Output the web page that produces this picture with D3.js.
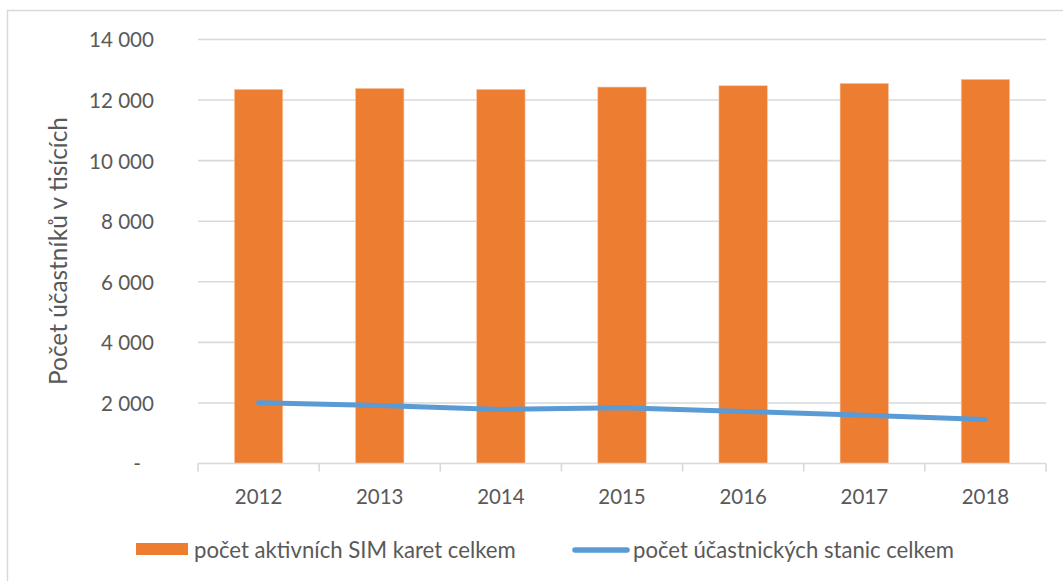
<!DOCTYPE html>
<html>
<head>
<meta charset="utf-8">
<script src="https://cdn.jsdelivr.net/npm/d3@7"></script>
<style>
  html, body { margin: 0; padding: 0; background: #fff; }
  svg { display: block; }
  text { font-family: Lato, "Open Sans", sans-serif; fill: #595959; }
</style>
</head>
<body>
<svg id="chart" width="1063" height="581"></svg>
<script>
const years = ["2012", "2013", "2014", "2015", "2016", "2017", "2018"];
const simCards = [12354, 12387, 12354, 12430, 12473, 12552, 12685];
const stations = [2010, 1917, 1785, 1841, 1719, 1597, 1455];
const yTicks = [0, 2000, 4000, 6000, 8000, 10000, 12000, 14000];
const seriesNames = ["počet aktivních SIM karet celkem", "počet účastnických stanic celkem"];
const yTitle = "Počet účastníků v tisících";

const barColor = "#ED7D31";
const lineColor = "#5B9BD5";
const gridColor = "#D9D9D9";

const svg = d3.select("#chart");

function fit(sel, w) {
  const n = sel.node();
  const cur = n.getComputedTextLength();
  const fs = parseFloat(sel.style("font-size"));
  return fs * w / cur;
}

// outer chart border
svg.append("rect")
  .attr("x", 7.5).attr("y", 10.5)
  .attr("width", 1070).attr("height", 590)
  .attr("fill", "none").attr("stroke", gridColor).attr("stroke-width", 1.5);

const x = d3.scaleBand().domain(years).range([198, 1046]).paddingInner(0.6).paddingOuter(0.3);
const y = d3.scaleLinear().domain([0, 14000]).range([463.5, 39.5]);

const loc = d3.formatLocale({ decimal: ",", thousands: "\u2009", grouping: [3], currency: ["", ""] });
const fmt = v => v === 0 ? "-" : loc.format(",")(v).replace("\u2009", " ");

// gridlines
svg.append("g").selectAll("line")
  .data(yTicks.filter(v => v > 0))
  .join("line")
  .attr("x1", 198).attr("x2", 1046)
  .attr("y1", d => y(d)).attr("y2", d => y(d))
  .attr("stroke", gridColor).attr("stroke-width", 1.6);

// y axis labels
const yAxis = d3.axisLeft(y).tickValues(yTicks).tickFormat(fmt).tickSize(0).tickPadding(0);
const gy = svg.append("g").attr("transform", "translate(154,0)").call(yAxis);
gy.select(".domain").remove();
const yLabels = gy.selectAll("text").style("font-size", "20px").attr("fill", "#595959");
const yfs = fit(yLabels.filter(d => d === 14000), 65);
yLabels.style("font-size", yfs + "px")
  .attr("dy", "0.36em")
  .attr("dx", d => d === 0 ? -13 : 0);

// bars
svg.append("g").selectAll("rect")
  .data(years)
  .join("rect")
  .attr("x", d => x(d))
  .attr("width", x.bandwidth())
  .attr("y", (d, i) => y(simCards[i]))
  .attr("height", (d, i) => y(0) - y(simCards[i]))
  .attr("fill", barColor)
  .attr("stroke", "#F8CBAD").attr("stroke-width", 0.6);

// x axis
const xAxis = d3.axisBottom(x).tickSize(0).tickPadding(0);
const gx = svg.append("g").attr("transform", `translate(0,${y(0)})`).call(xAxis);
gx.select(".domain").remove();
gx.append("line").attr("x1", 198).attr("x2", 1046).attr("y1", 0).attr("y2", 0)
  .attr("stroke", gridColor).attr("stroke-width", 1.6);
const tickXs = d3.range(years.length + 1).map(i => 198 + i * x.step());
gx.selectAll(".sep").data(tickXs).join("line").attr("class", "sep")
  .attr("x1", d => d).attr("x2", d => d).attr("y1", 0).attr("y2", 8)
  .attr("stroke", gridColor).attr("stroke-width", 1.6);
const xLabels = gx.selectAll(".tick text").style("font-size", "21px").attr("fill", "#595959");
const xfs = fit(xLabels.filter(d => d === "2012"), 47.5);
xLabels.style("font-size", xfs + "px").attr("y", 40).attr("dy", 0);

// line
const line = d3.line()
  .x((d, i) => x(years[i]) + x.bandwidth() / 2)
  .y(d => y(d));
svg.append("path")
  .datum(stations)
  .attr("d", line)
  .attr("fill", "none")
  .attr("stroke", lineColor)
  .attr("stroke-width", 5)
  .attr("stroke-linecap", "round")
  .attr("stroke-linejoin", "round");

// y title
const yt = svg.append("text")
  .attr("transform", "translate(67,251) rotate(-90)")
  .attr("text-anchor", "middle")
  .style("font-size", "21px")
  .text(yTitle);
yt.style("font-size", fit(yt, 268) + "px");

// legend
const lg = svg.append("g");
lg.append("rect").attr("x", 136).attr("y", 543).attr("width", 52).attr("height", 12).attr("fill", barColor);
const l1 = lg.append("text").attr("x", 194).attr("y", 558).style("font-size", "21px").text(seriesNames[0]);
lg.append("line").attr("x1", 575).attr("x2", 627).attr("y1", 550).attr("y2", 550)
  .attr("stroke", lineColor).attr("stroke-width", 5.5).attr("stroke-linecap", "round");
const l2 = lg.append("text").attr("x", 633).attr("y", 558).style("font-size", "21px").text(seriesNames[1]);
l1.style("font-size", fit(l1, 322) + "px");
l2.style("font-size", fit(l2, 321) + "px");
</script>
</body>
</html>
